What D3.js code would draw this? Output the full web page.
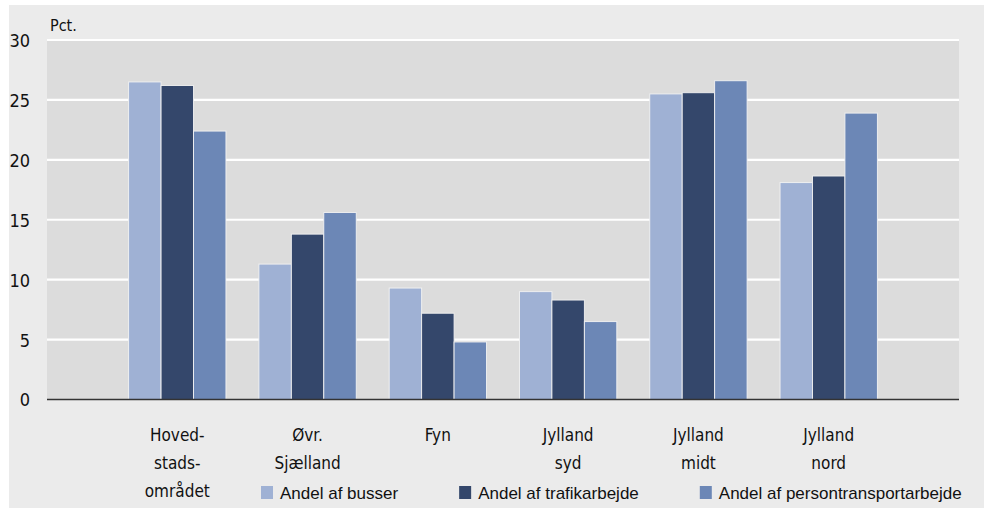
<!DOCTYPE html>
<html><head><meta charset="utf-8">
<script src="https://cdn.jsdelivr.net/npm/d3@7"></script>
<style>
html,body{margin:0;padding:0;background:#fff;}
svg{display:block;}
</style></head>
<body>
<svg id="chart" width="984" height="508"></svg>
<script>
const categories = [["Hoved-","stads-","området"],["Øvr.","Sjælland"],["Fyn"],["Jylland","syd"],["Jylland","midt"],["Jylland","nord"]];
const categoryKeys = ["Hovedstadsområdet","Øvr. Sjælland","Fyn","Jylland syd","Jylland midt","Jylland nord"];
const seriesNames = ["Andel af busser","Andel af trafikarbejde","Andel af persontransportarbejde"];
const busser = [26.5, 11.3, 9.3, 9.0, 25.5, 18.1];
const trafikarbejde = [26.2, 13.8, 7.2, 8.3, 25.6, 18.65];
const persontransportarbejde = [22.4, 15.6, 4.8, 6.5, 26.6, 23.9];
const yTicks = [0,5,10,15,20,25,30];
const colors = ["#9fb1d4","#34476b","#6c87b6"];
const seriesValues = [busser, trafikarbejde, persontransportarbejde];

(function(){
const svg = d3.select("#chart");
svg.append("rect").attr("x",9).attr("y",5).attr("width",975).attr("height",503).attr("fill","#ebebeb");

const mL = 47, mR = 959, mT = 40, mB = 399.5;
const x = d3.scalePoint().domain(categoryKeys).range([mL,mR]).padding(1);
const groupW = x.step()*0.747;
const x1 = d3.scaleBand().domain(seriesNames).range([-groupW/2, groupW/2]);
const y = d3.scaleLinear().domain([0,30]).range([mB, mT]);

svg.append("rect").attr("x",mL).attr("y",y(30)).attr("width",mR-mL).attr("height",y(0)-y(30)).attr("fill","#dcdcdc");

svg.append("g").selectAll("line").data(yTicks.filter(d=>d>0)).join("line")
  .attr("x1",mL).attr("x2",mR).attr("y1",d=>y(d)).attr("y2",d=>y(d))
  .attr("stroke","#fff").attr("stroke-width",2.2);

const yAxis = d3.axisLeft(y).tickValues(yTicks).tickSize(0).tickPadding(0);
const gy = svg.append("g").attr("transform","translate(30,0)").call(yAxis);
gy.select(".domain").remove();
gy.selectAll("text").attr("font-family","'DejaVu Sans Condensed','DejaVu Sans',sans-serif").attr("font-size","18px").attr("fill","#111").attr("dy","0.36em");

svg.append("text").attr("x",50).attr("y",31).text("Pct.")
  .attr("font-family","'DejaVu Sans Condensed','DejaVu Sans',sans-serif").attr("font-size","16px").attr("fill","#111");

const bars = [];
categoryKeys.forEach((c,i)=>seriesNames.forEach((s,j)=>bars.push({c,s,v:seriesValues[j][i],j})));
svg.append("g").selectAll("rect").data(bars).join("rect")
  .attr("x",d=>x(d.c)+x1(d.s)).attr("width",x1.bandwidth())
  .attr("y",d=>y(d.v)).attr("height",d=>y(0)-y(d.v))
  .attr("fill",d=>colors[d.j]).attr("stroke","#f2f2f2").attr("stroke-width",0.9);

svg.append("line").attr("x1",mL).attr("x2",mR).attr("y1",y(0)).attr("y2",y(0)).attr("stroke","#333").attr("stroke-width",1.6);

const gx = svg.append("g");
categoryKeys.forEach((c,i)=>{
  const t = gx.append("text").attr("x",x(c)).attr("y",441).attr("text-anchor","middle")
    .attr("font-family","'DejaVu Sans Condensed','DejaVu Sans',sans-serif").attr("font-size","17px").attr("fill","#111");
  categories[i].forEach((line,k)=>{
    t.append("tspan").attr("x",x(c)).attr("dy",k===0?0:28).text(line);
  });
});

let lx = 261;
seriesNames.forEach((s,j)=>{
  const g = svg.append("g").attr("transform",`translate(${lx},0)`);
  g.append("rect").attr("x",0).attr("y",486).attr("width",12).attr("height",13).attr("fill",colors[j]);
  const t = g.append("text").attr("x",19).attr("y",498.5).text(s)
    .attr("font-family","'Liberation Sans',Arial,sans-serif").attr("font-size","17px").attr("fill","#111");
  lx += 19 + t.node().getComputedTextLength() + 61;
});
})();
</script>
</body></html>
